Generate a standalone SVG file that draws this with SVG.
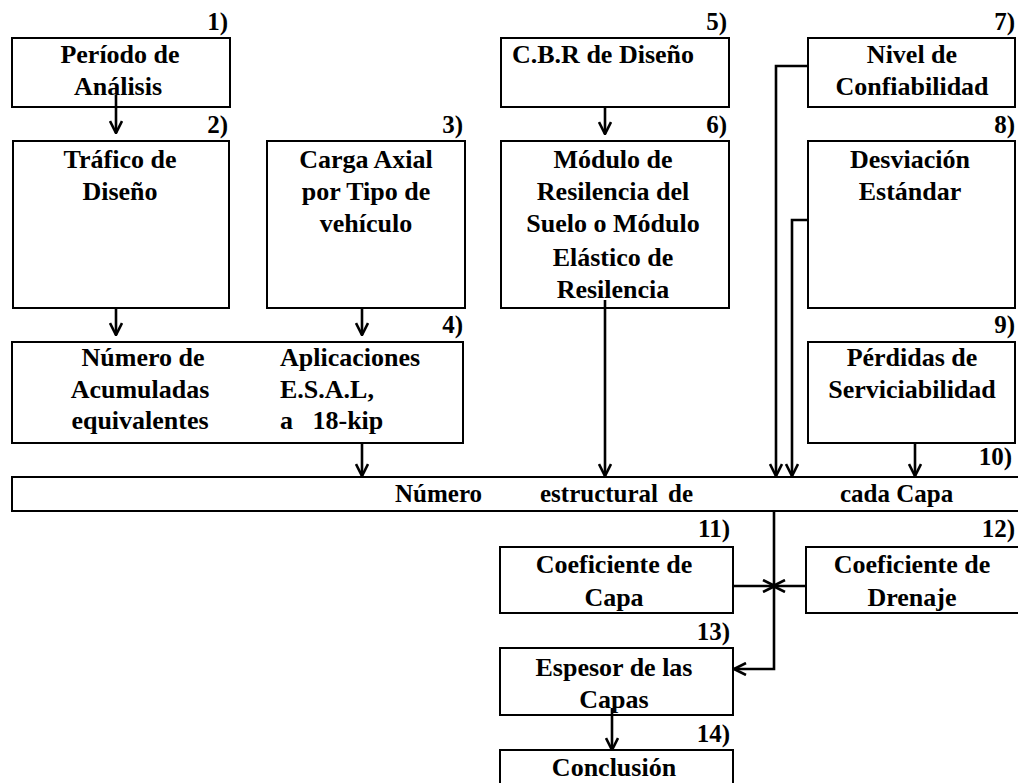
<svg xmlns="http://www.w3.org/2000/svg" width="1018" height="783" viewBox="0 0 1018 783">
<defs>
<marker id="ah" viewBox="0 0 14 14" refX="13" refY="7" markerWidth="14" markerHeight="14" markerUnits="userSpaceOnUse" orient="auto">
<path d="M1,1 L13,7 L1,13" fill="none" stroke="#000" stroke-width="2.6"/>
</marker>
<style>
.b{fill:#fff;stroke:#000;stroke-width:2}
.t{font-family:"Liberation Serif","Times New Roman",serif;font-size:26px;font-weight:bold;fill:#000;text-anchor:middle}
.l{font-family:"Liberation Serif","Times New Roman",serif;font-size:25px;font-weight:bold;fill:#000;text-anchor:end}
.s{font-family:"Liberation Serif","Times New Roman",serif;font-size:26px;font-weight:bold;fill:#000}
.r{font-family:"Liberation Serif","Times New Roman",serif;font-size:25px;font-weight:bold;fill:#000}
.c{fill:none;stroke:#000;stroke-width:2.6}
</style>
</defs>
<rect width="1018" height="783" fill="#fff"/>
<g id="n1"><rect class="b" x="12" y="38" width="218" height="69"/><text class="t" x="120" y="63">Período de</text><text class="t" x="118" y="95">Análisis</text><text class="l" x="228" y="30">1)</text></g>
<g id="n2"><rect class="b" x="13" y="141" width="216" height="167"/><text class="t" x="120" y="168">Tráfico de</text><text class="t" x="120" y="200">Diseño</text><text class="l" x="228" y="133">2)</text></g>
<g id="n3"><rect class="b" x="267" y="141" width="198" height="167"/><text class="t" x="366" y="168">Carga Axial</text><text class="t" x="366" y="200">por Tipo de</text><text class="t" x="366" y="232">vehículo</text><text class="l" x="463" y="133">3)</text></g>
<g id="n4"><rect class="b" x="12" y="342" width="451" height="101"/><text class="t" x="143" y="366">Número de</text><text class="t" x="140" y="398">Acumuladas</text><text class="t" x="140" y="429">equivalentes</text><text class="s" x="280" y="366">Aplicaciones</text><text class="s" x="280" y="398">E.S.A.L,</text><text class="s" x="280" y="429" xml:space="preserve">a   18-kip</text><text class="l" x="463" y="333">4)</text></g>
<g id="n5"><rect class="b" x="501" y="38" width="228" height="69"/><text class="s" x="512" y="63">C.B.R de Diseño</text><text class="l" x="727" y="30">5)</text></g>
<g id="n6"><rect class="b" x="501" y="141" width="228" height="167"/><text class="t" x="613" y="168">Módulo de</text><text class="t" x="613" y="200">Resilencia del</text><text class="t" x="613" y="232">Suelo o Módulo</text><text class="t" x="613" y="266">Elástico de</text><text class="t" x="613" y="298">Resilencia</text><text class="l" x="727" y="133">6)</text></g>
<g id="n7"><rect class="b" x="808" y="38" width="207" height="69"/><text class="t" x="912" y="63">Nivel de</text><text class="t" x="912" y="95">Confiabilidad</text><text class="l" x="1015" y="30">7)</text></g>
<g id="n8"><rect class="b" x="808" y="141" width="207" height="167"/><text class="t" x="910" y="168">Desviación</text><text class="t" x="910" y="200">Estándar</text><text class="l" x="1015" y="133">8)</text></g>
<g id="n9"><rect class="b" x="808" y="342" width="207" height="101"/><text class="t" x="912" y="366">Pérdidas de</text><text class="t" x="912" y="398">Serviciabilidad</text><text class="l" x="1015" y="333">9)</text></g>
<g id="n10"><rect class="b" x="12" y="477" width="1030" height="34"/><text class="r" x="395" y="502">Número</text><text class="r" x="540" y="502">estructural</text><text class="r" x="668" y="502">de</text><text class="r" x="840" y="502">cada Capa</text><text class="l" x="1012" y="465">10)</text></g>
<g id="n11"><rect class="b" x="500" y="547" width="233" height="66"/><text class="t" x="614" y="573">Coeficiente de</text><text class="t" x="614" y="606">Capa</text><text class="l" x="730" y="537">11)</text></g>
<g id="n12"><rect class="b" x="806" y="547" width="215" height="66"/><text class="t" x="912" y="573">Coeficiente de</text><text class="t" x="912" y="606">Drenaje</text><text class="l" x="1015" y="537">12)</text></g>
<g id="n13"><rect class="b" x="500" y="648" width="233" height="67"/><text class="t" x="614" y="676">Espesor de las</text><text class="t" x="614" y="708">Capas</text><text class="l" x="730" y="640">13)</text></g>
<g id="n14"><rect class="b" x="500" y="750" width="233" height="45"/><text class="t" x="614" y="776">Conclusión</text><text class="l" x="730" y="742">14)</text></g>
<g id="connectors">
<path class="c" d="M116,95 V133" marker-end="url(#ah)"/>
<path class="c" d="M116,308 V335" marker-end="url(#ah)"/>
<path class="c" d="M362,308 V335" marker-end="url(#ah)"/>
<path class="c" d="M362,443 V476" marker-end="url(#ah)"/>
<path class="c" d="M605,107 V134" marker-end="url(#ah)"/>
<path class="c" d="M605,300 V476" marker-end="url(#ah)"/>
<path class="c" d="M808,66 H776 V476" marker-end="url(#ah)"/>
<path class="c" d="M808,220 H792 V476" marker-end="url(#ah)"/>
<path class="c" d="M915,443 V476" marker-end="url(#ah)"/>
<path class="c" d="M774,511 V669 H734" marker-end="url(#ah)"/>
<path class="c" d="M733,586 H775" marker-end="url(#ah)"/>
<path class="c" d="M806,586 H773" marker-end="url(#ah)"/>
<path class="c" d="M612,708 V750" marker-end="url(#ah)"/>
</g>
</svg>
